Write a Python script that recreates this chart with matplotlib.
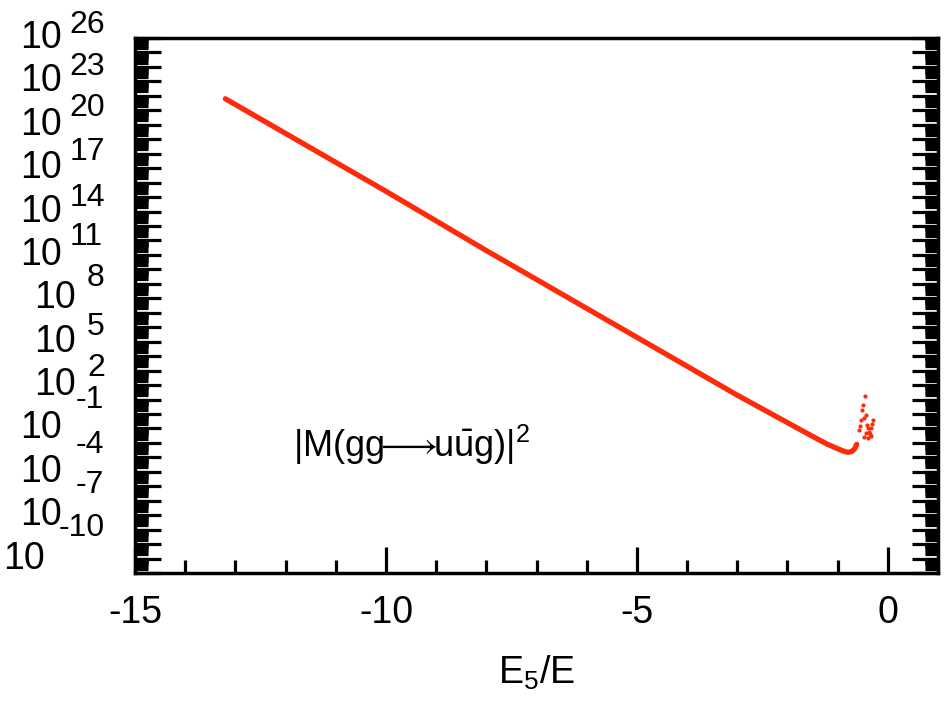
import numpy as np
import matplotlib.pyplot as plt
from matplotlib.ticker import FixedLocator, NullFormatter

plt.rcParams['font.family'] = ['Liberation Sans', 'DejaVu Sans']
plt.rcParams['mathtext.fontset'] = 'custom'
plt.rcParams['mathtext.rm'] = 'Liberation Sans'
plt.rcParams['mathtext.it'] = 'Liberation Sans:italic'

# |M|^2 (log10) against E5/E along the soft limit
e5 = [-13.2, -12.0, -10.0, -8.0, -6.0, -4.0, -3.0, -2.0, -1.5, -1.2,
      -1.0, -0.9, -0.8, -0.72, -0.66, -0.62]
log_m2 = [21.8, 19.4, 15.4, 11.3, 7.3, 3.3, 1.3, -0.6, -1.55, -2.1,
          -2.4, -2.55, -2.65, -2.6, -2.4, -2.1]

# unstable points right at the end
e5_end = [-0.58, -0.56, -0.54, -0.52, -0.50, -0.48, -0.46, -0.44, -0.42,
          -0.40, -0.38, -0.36, -0.34, -0.32, -0.30, -0.34, -0.40, -0.48, -0.44]
log_m2_end = [-1.11, -0.8, -0.42, 0.27, 0.62, -0.3, 1.24, -0.07, -0.76,
              -1.0, -1.25, -1.4, -0.97, -0.7, -0.42, -1.52, -1.66, -1.59, -1.3]

xticks = [-15, -10, -5, 0]
ylab_exp = [26, 23, 20, 17, 14, 11, 8, 5, 2, -1, -4, -7, -10]
# label placement, pixels: right edge of "10", exponent left edge, exponent lift
base_dx = [-73, -73, -73, -73, -73, -73, -59, -59, -59, -73, -73, -73, -90]
exp_dx = [-66, -66, -66, -65, -65, -65, -48, -48, -48, -59, -59, -59, -76]
exp_dy = [13, 14, 17, 16, 14, 18, 20, 15, 17, 28, 27, 30, 31]

red = '#ff2a0a'

fig = plt.figure(figsize=(9.5, 7.05), dpi=100)
ax = fig.add_axes([0.1421, 0.1872, 0.8453, 0.7589])
ax.set_yscale('log')

ax.plot(e5, 10.0 ** np.array(log_m2), color=red, lw=3.8,
        solid_capstyle='round', solid_joinstyle='round')
ax.plot(e5_end, 10.0 ** np.array(log_m2_end), ls='none', marker='o',
        ms=3.0, color=red, mec='none')

ax.set_xlim(-15, 1)
ax.set_ylim(1e-11, 1e26)

ax.set_xticks(xticks)
ax.set_xticklabels([str(t) for t in xticks])
ax.xaxis.set_minor_locator(FixedLocator(list(range(-15, 2))))

ax.yaxis.set_major_locator(FixedLocator([10.0 ** k for k in range(-11, 27)]))
ax.yaxis.set_minor_locator(FixedLocator([m * 10.0 ** k for k in range(-11, 26)
                                         for m in range(2, 10)]))
ax.yaxis.set_major_formatter(NullFormatter())
ax.yaxis.set_minor_formatter(NullFormatter())

ax.tick_params(which='both', direction='in', top=False, right=True,
               width=2.3, color='black')
ax.tick_params(which='major', length=18.7)
ax.tick_params(which='minor', length=9.4)
ax.tick_params(axis='x', labelsize=27, pad=16)
for s in ax.spines.values():
    s.set_linewidth(2.5)

for e, bdx, edx, edy in zip(ylab_exp, base_dx, exp_dx, exp_dy):
    ax.annotate('10', xy=(0, 10.0 ** e), xycoords=('axes fraction', 'data'),
                xytext=(bdx, 0), textcoords='offset pixels',
                ha='right', va='center', fontsize=27)
    ax.annotate(str(e), xy=(0, 10.0 ** e), xycoords=('axes fraction', 'data'),
                xytext=(edx, edy), textcoords='offset pixels',
                ha='left', va='center', fontsize=23)

ax.set_xlabel('E$_5$/E', fontsize=27, labelpad=16)

ax.text(-11.85, 1e-3,
        '|M(gg$\\!\\!\\longrightarrow\\!\\!$u$\\bar{\\mathrm{u}}$g)|$^2$',
        fontsize=26, ha='left', va='baseline')

fig.savefig('out.png', dpi=100)
